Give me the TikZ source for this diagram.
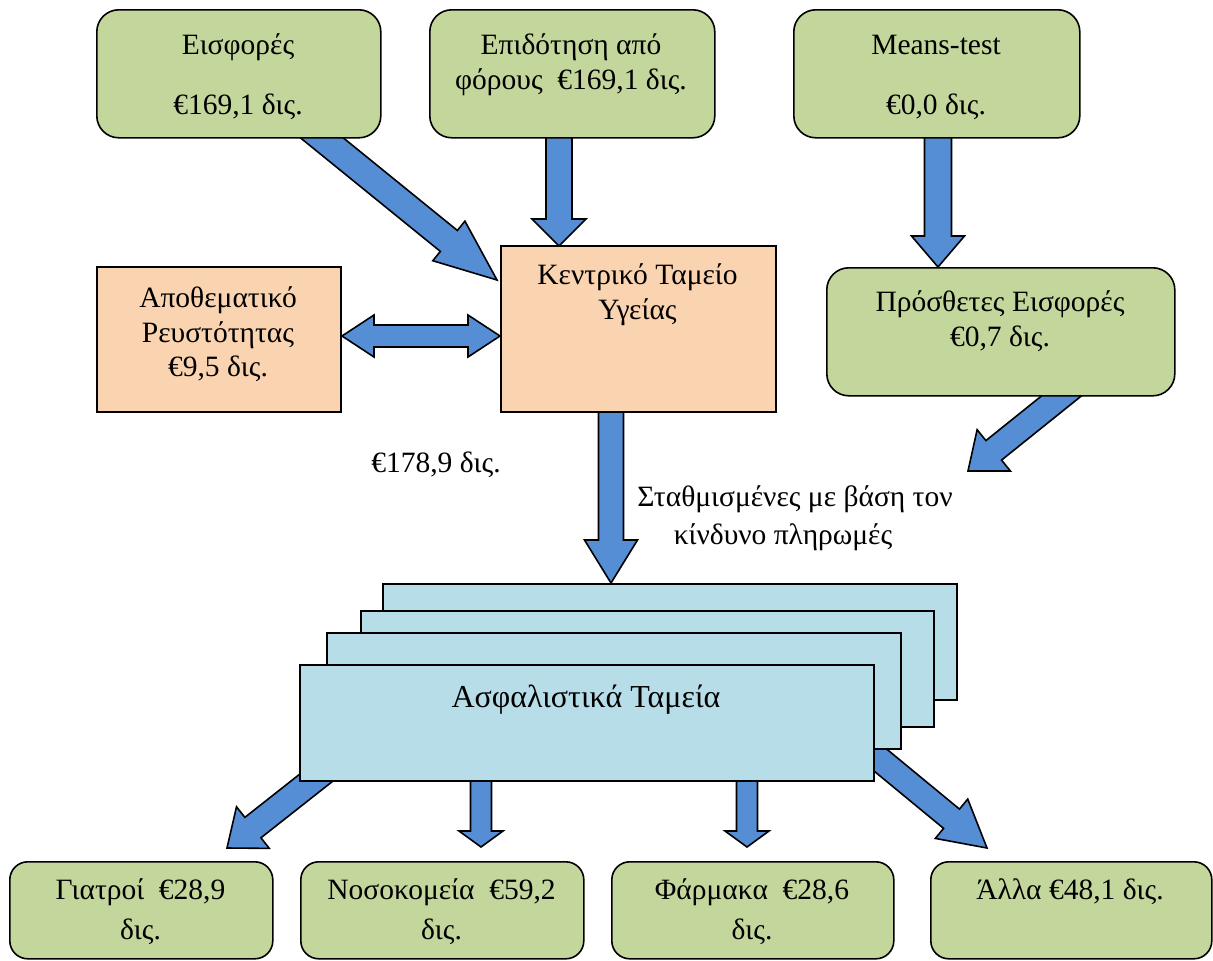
\documentclass[tikz,border=0pt]{standalone}
\usepackage{fontspec}
\setmainfont{Liberation Serif}
\usetikzlibrary{calc}
\definecolor{boxgreen}{HTML}{C3D69B}
\definecolor{boxpeach}{HTML}{FAD3B1}
\definecolor{boxblue}{HTML}{B7DDE8}
\definecolor{arrblue}{HTML}{558ED5}
\newcommand\blockarrow[5]{%
  \coordinate (ba-hb) at ($(#2)!#5!(#1)$);
  \draw[arrowstyle] ($(#1)!#3/2!90:(#2)$) -- ($(ba-hb)!#3/2!90:(#2)$) -- ($(ba-hb)!#4/2!90:(#2)$) -- (#2)
    -- ($(ba-hb)!#4/2!-90:(#2)$) -- ($(ba-hb)!#3/2!-90:(#2)$) -- ($(#1)!#3/2!-90:(#2)$) -- cycle;
}
\newcommand\dblblockarrow[5]{%
  \coordinate (da-h1) at ($(#1)!#5!(#2)$);
  \coordinate (da-h2) at ($(#2)!#5!(#1)$);
  \draw[arrowstyle] (#1) -- ($(da-h1)!#4/2!90:(#2)$) -- ($(da-h1)!#3/2!90:(#2)$) -- ($(da-h2)!#3/2!90:(#2)$)
    -- ($(da-h2)!#4/2!90:(#2)$) -- (#2) -- ($(da-h2)!#4/2!-90:(#2)$) -- ($(da-h2)!#3/2!-90:(#2)$)
    -- ($(da-h1)!#3/2!-90:(#2)$) -- ($(da-h1)!#4/2!-90:(#2)$) -- cycle;
}
\begin{document}
\begin{tikzpicture}[x=1pt,y=-1pt,
  arrowstyle/.style={fill=arrblue,draw=black,line width=1.6pt,line join=miter},
  gbox/.style={draw=black,line width=1.6pt,fill=boxgreen,rounded corners=22pt,inner sep=0pt,anchor=north west},
  gboxs/.style={gbox,rounded corners=18pt},
  pbox/.style={draw=black,line width=1.6pt,fill=boxpeach,inner sep=0pt,anchor=north west},
  bbox/.style={draw=black,line width=1.6pt,fill=boxblue,inner sep=0pt,anchor=north west},
  txt/.style={inner sep=0pt,anchor=base,font=\fontsize{29.5}{35}\selectfont},
  bigtxt/.style={inner sep=0pt,anchor=base,font=\fontsize{32}{38}\selectfont}]
\useasboundingbox (0,0) rectangle (1213,961);
% arrow end points
\coordinate (a1s) at (290,112);  \coordinate (a1e) at (497,280);
\coordinate (a2s) at (559,120);  \coordinate (a2e) at (559,246);
\coordinate (a3s) at (938,120);  \coordinate (a3e) at (938,267);
\coordinate (a4s) at (342,336);  \coordinate (a4e) at (500,336);
\coordinate (a5s) at (1085,377); \coordinate (a5e) at (968,471);
\coordinate (a6s) at (611,400);  \coordinate (a6e) at (611,583);
\coordinate (a7s) at (345,755);  \coordinate (a7e) at (227,848);
\coordinate (a8s) at (481,770);  \coordinate (a8e) at (481,847);
\coordinate (a9s) at (747,770);  \coordinate (a9e) at (747,847);
\coordinate (a10s) at (833,721); \coordinate (a10e) at (987,848);
% arrows (under boxes)
\blockarrow{a1s}{a1e}{27pt}{51pt}{62pt}
\blockarrow{a2s}{a2e}{26pt}{54pt}{27pt}
\blockarrow{a3s}{a3e}{27pt}{53pt}{31pt}
\dblblockarrow{a4s}{a4e}{22pt}{42pt}{32pt}
\blockarrow{a5s}{a5e}{25pt}{53pt}{33pt}
\blockarrow{a6s}{a6e}{25pt}{53pt}{43pt}
\blockarrow{a7s}{a7e}{26pt}{53pt}{33pt}
\blockarrow{a8s}{a8e}{21pt}{44pt}{16pt}
\blockarrow{a9s}{a9e}{21pt}{44pt}{16pt}
\blockarrow{a10s}{a10e}{25pt}{51pt}{46pt}
% top boxes
\node[gbox,minimum width=284pt,minimum height=128pt] (eisf) at (96,9) {};
\node[gbox,minimum width=285pt,minimum height=128pt] (epid) at (429,9) {};
\node[gbox,minimum width=286pt,minimum height=128pt] (means) at (793,9) {};
\node[pbox,minimum width=275pt,minimum height=166pt] (kent) at (500,245) {};
\node[pbox,minimum width=244pt,minimum height=145pt] (apoth) at (96,266) {};
\node[gbox,minimum width=348pt,minimum height=128pt] (prosth) at (826,267) {};
% stacked funds
\node[bbox,minimum width=574pt,minimum height=116pt] (fund4) at (382,583) {};
\node[bbox,minimum width=573pt,minimum height=116pt] (fund3) at (360,610) {};
\node[bbox,minimum width=574pt,minimum height=116pt] (fund2) at (326,632) {};
\node[bbox,minimum width=574pt,minimum height=116pt] (fund1) at (299,664) {};
% bottom boxes
\node[gboxs,minimum width=263pt,minimum height=97pt] (giat) at (9,861) {};
\node[gboxs,minimum width=283pt,minimum height=97pt] (noso) at (300,861) {};
\node[gboxs,minimum width=282pt,minimum height=97pt] (farm) at (611,861) {};
\node[gboxs,minimum width=281pt,minimum height=97pt] (alla) at (930,861) {};
% texts
\node[txt] (t1a) at (238,54) {Εισφορές};
\node[txt] (t1b) at (238,114) {€169,1 δις.};
\node[txt] (t2a) at (571,54) {Επιδότηση από};
\node[txt] (t2b) at (571,89) {φόρους\ \ €169,1 δις.};
\node[txt] (t3a) at (936,54) {Means-test};
\node[txt] (t3b) at (936,114) {€0,0 δις.};
\node[txt] (t4a) at (637.5,284) {Κεντρικό Ταμείο};
\node[txt] (t4b) at (637.5,319) {Υγείας};
\node[txt] (t5a) at (218,307) {Αποθεματικό};
\node[txt] (t5b) at (218,342) {Ρευστότητας};
\node[txt] (t5c) at (218,376) {€9,5 δις.};
\node[txt] (t6a) at (1000,311) {Πρόσθετες Εισφορές};
\node[txt] (t6b) at (1000,346) {€0,7 δις.};
\node[txt] (t7) at (436,472) {€178,9 δις.};
\node[txt] (t8a) at (795,506) {Σταθμισμένες με βάση τον};
\node[txt] (t8b) at (783,544) {κίνδυνο πληρωμές};
\node[bigtxt] (t9) at (586,707) {Ασφαλιστικά Ταμεία};
\node[txt] (t10a) at (140.5,899) {Γιατροί\ \ €28,9};
\node[txt] (t10b) at (140.5,939) {δις.};
\node[txt] (t11a) at (441.5,899) {Νοσοκομεία\ \ €59,2};
\node[txt] (t11b) at (441.5,939) {δις.};
\node[txt] (t12a) at (752,899) {Φάρμακα\ \ €28,6};
\node[txt] (t12b) at (752,939) {δις.};
\node[txt] (t13) at (1070,899) {Άλλα €48,1 δις.};
\end{tikzpicture}
\end{document}
